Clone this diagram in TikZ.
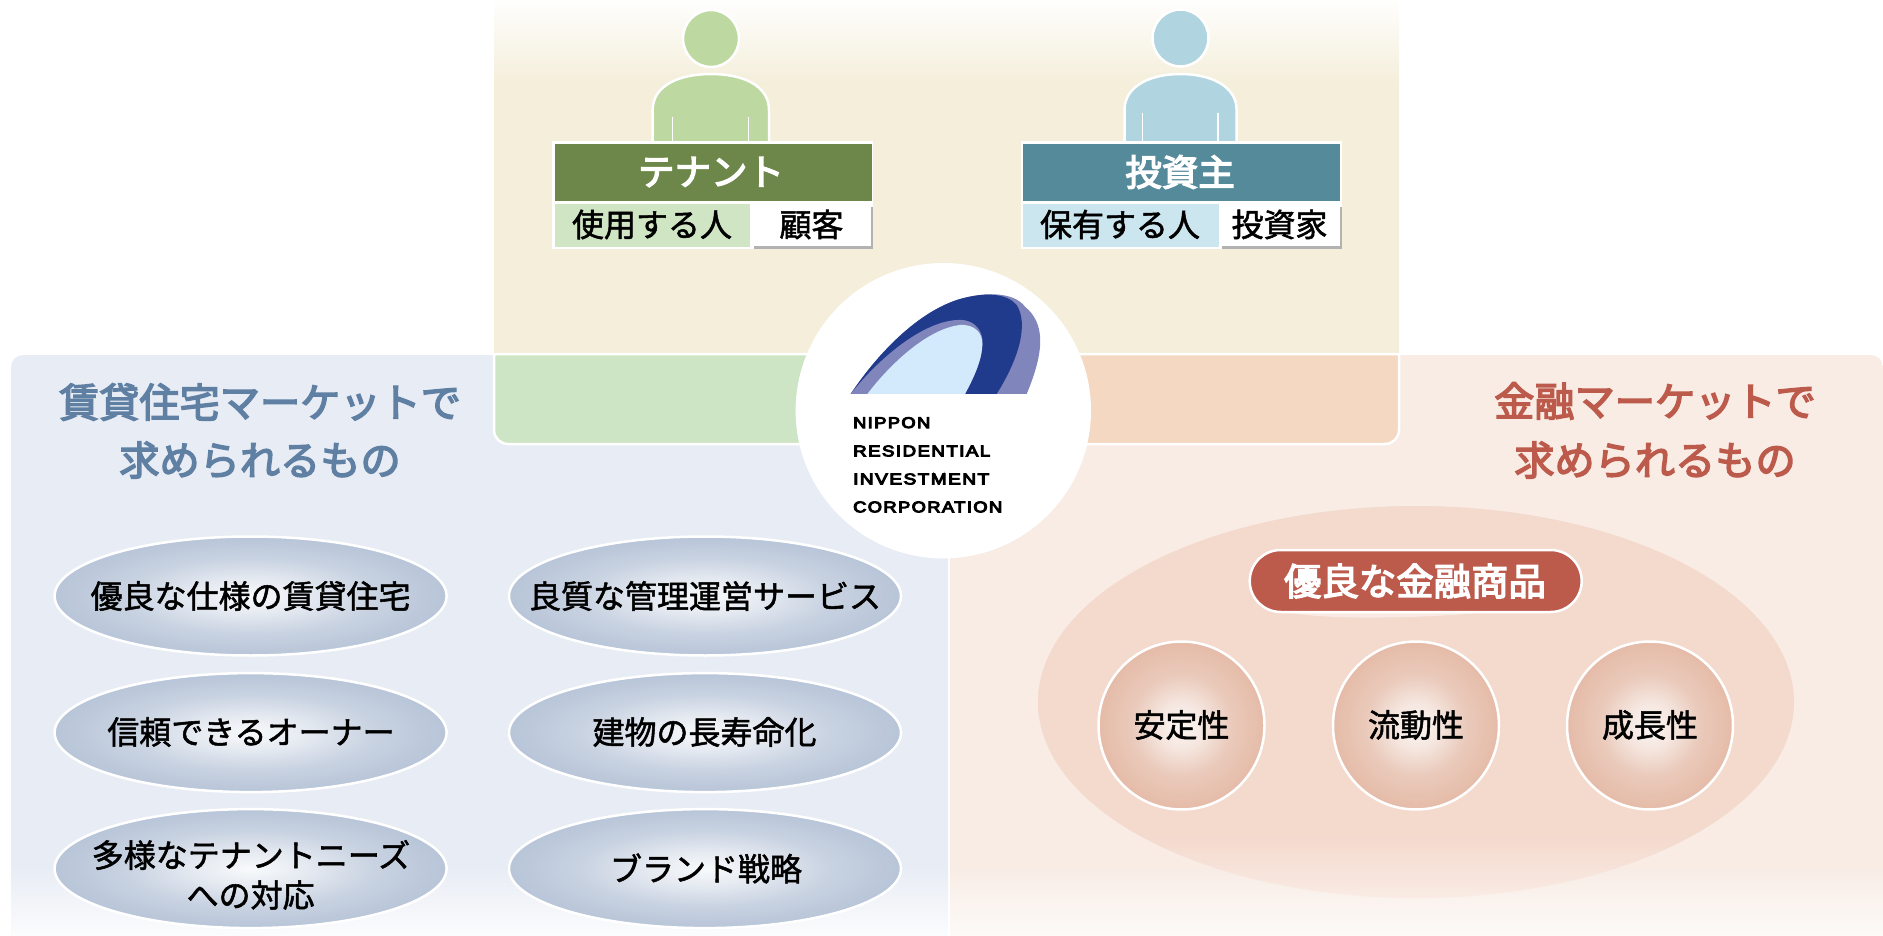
\documentclass[tikz,border=0pt]{standalone}
\usepackage{fontspec}
\setmainfont{Liberation Sans}
\newfontfamily\jpf[FakeBold=1.6]{Noto Sans CJK JP}
\newfontfamily\jph[FakeBold=3.6]{Noto Sans CJK JP}
\newfontfamily\logof[LetterSpace=8,FakeBold=6]{Liberation Sans}
\definecolor{panelB}{HTML}{E8ECF4}
\definecolor{fadeB}{HTML}{FBFCFD}
\definecolor{panelR}{HTML}{F8ECE5}
\definecolor{fadeR}{HTML}{FDFAF8}
\definecolor{beige}{HTML}{F4EEDA}
\definecolor{beigeTop}{HTML}{FEFEFD}
\definecolor{boxG}{HTML}{CDE5C4}
\definecolor{boxO}{HTML}{F4D8C1}
\definecolor{bigE}{HTML}{F4D9CD}
\definecolor{bigF}{HTML}{F9EBE4}
\definecolor{rust}{HTML}{BC5A4C}
\definecolor{steel}{HTML}{5F7FA3}
\definecolor{hdG}{HTML}{6C8749}
\definecolor{hdB}{HTML}{548A9A}
\definecolor{cellG}{HTML}{CFE5C3}
\definecolor{cellB}{HTML}{CBE6EE}
\definecolor{bodyG}{HTML}{BDD8A0}
\definecolor{bodyB}{HTML}{B1D5E0}
\definecolor{ova}{HTML}{F8FAFB}
\definecolor{ovb}{HTML}{E3E8F0}
\definecolor{ovc}{HTML}{C8D2E1}
\definecolor{ovd}{HTML}{B8C5D8}
\definecolor{cra}{HTML}{FBF6F4}
\definecolor{crb}{HTML}{F5E6DF}
\definecolor{crc}{HTML}{EACABB}
\definecolor{crd}{HTML}{E5BBA8}
\definecolor{lgD}{HTML}{203A8C}
\definecolor{lgP}{HTML}{8085BC}
\definecolor{lgL}{HTML}{D3E9FC}
\pgfdeclareverticalshading{bluepanel}{100bp}{color(0bp)=(fadeB); color(25bp)=(fadeB); color(31bp)=(panelB); color(100bp)=(panelB)}
\pgfdeclareverticalshading{redpanel}{100bp}{color(0bp)=(fadeR); color(25bp)=(fadeR); color(31bp)=(panelR); color(100bp)=(panelR)}
\pgfdeclareverticalshading{toppanel}{100bp}{color(0bp)=(beige); color(63bp)=(beige); color(75bp)=(beigeTop); color(100bp)=(beigeTop)}
\pgfdeclareverticalshading{bigoval}{100bp}{color(0bp)=(bigF); color(25bp)=(bigF); color(33bp)=(bigE); color(100bp)=(bigE)}
\pgfdeclareradialshading{ovalshade}{\pgfpoint{0bp}{0bp}}{color(0bp)=(ova); color(8bp)=(ovb); color(16bp)=(ovc); color(25bp)=(ovd); color(50bp)=(ovd)}
\pgfdeclareradialshading{circshade}{\pgfpoint{0bp}{0bp}}{color(0bp)=(cra); color(7bp)=(crb); color(15bp)=(crc); color(25bp)=(crd); color(50bp)=(crd)}
\tikzset{
  lab/.style={font=\jpf\fontsize{32pt}{40pt}\selectfont, text=black, inner sep=0pt, align=center},
  headlab/.style={font=\jph\fontsize{36.5pt}{42pt}\selectfont, text=white, inner sep=0pt},
  title/.style={font=\jph\fontsize{40.2pt}{48pt}\selectfont, inner sep=0pt},
  logolab/.style={font=\logof, text=black, inner sep=0pt, anchor=west},
  oval/.style={shading=ovalshade},
  whiteedge/.style={draw=white, line width=2.5pt},
}
\begin{document}
\begin{tikzpicture}[x=1pt,y=-1pt]
\useasboundingbox (0,0) rectangle (1883,936);
% panels
\shade[shading=toppanel] (494,0) rectangle (1399,353);
\shade[shading=bluepanel] (11,936) -- (11,367) arc[start angle=180,end angle=270,radius=12] -- (948,355) -- (948,936) -- cycle;
\shade[shading=redpanel] (950,936) -- (950,355) -- (1871,355) arc[start angle=270,end angle=360,radius=12] -- (1883,936) -- cycle;
\draw[fill=boxG,draw=white,line width=2.5pt] (494,354) -- (494,430) arc[start angle=180,end angle=90,radius=14] -- (950,444) -- (950,354) -- cycle;
\draw[fill=boxO,draw=white,line width=2.5pt] (950,354) -- (950,444) -- (1385,444) arc[start angle=90,end angle=0,radius=14] -- (1399,354) -- cycle;
% persons
\draw[whiteedge,fill=bodyG] (711,38.5) ellipse[x radius=28,y radius=28.5];
\draw[whiteedge,fill=bodyG] (652.7,143) -- (652.7,110) .. controls (652.7,85) and (680,74) .. (711,74) .. controls (742,74) and (769,85) .. (769,110) -- (769,143);
\draw[white,line width=1.5pt] (672.4,117) -- (672.4,143) (748.6,117) -- (748.6,143);
\draw[whiteedge,fill=bodyB] (1180.5,38) ellipse[x radius=28,y radius=28.5];
\draw[whiteedge,fill=bodyB] (1124.5,143) -- (1124.5,110) .. controls (1124.5,85) and (1152,74) .. (1180.5,74) .. controls (1209,74) and (1236.6,85) .. (1236.6,110) -- (1236.6,143);
\draw[white,line width=1.5pt] (1142.5,113) -- (1142.5,143) (1218,113) -- (1218,143);
% tenant table
\fill[white] (552,141) rectangle (873,249);
\fill[hdG] (554.5,144) rectangle (871.5,201.5);
\node[headlab] (tenant) at (711,172) {テナント};
\fill[cellG] (554.5,204) rectangle (750,247);
\node[lab] (use) at (652,224.5) {使用する人};
\fill[white!70!black] (754,207) rectangle (873,249);
\fill[white] (752,204) rectangle (871,246);
\node[lab] (cust) at (811.5,224.5) {顧客};
% investor table
\fill[white] (1020.5,141) rectangle (1341.5,249);
\fill[hdB] (1022.6,144) rectangle (1339.5,201.5);
\node[headlab] (investor) at (1180,172) {投資主};
\fill[cellB] (1022.6,204) rectangle (1218.6,247);
\node[lab] (hold) at (1120,224.5) {保有する人};
\fill[white!70!black] (1222,207) rectangle (1341.5,249);
\fill[white] (1220,204) rectangle (1339.5,246);
\node[lab] (inv) at (1279.5,224.5) {投資家};
% titles
\node[title,text=steel] (t1) at (260,402) {賃貸住宅マーケットで};
\node[title,text=steel] (t2) at (260,460) {求められるもの};
\node[title,text=rust] (t3) at (1655,401) {金融マーケットで};
\node[title,text=rust] (t4) at (1655,460) {求められるもの};
% left ovals
\foreach \cx/\cy in {250.6/596,705/596,250.6/732.6,705/732.6,250.6/868.6,705/868.6}{
  \shade[oval] (\cx,\cy) ellipse[x radius=196,y radius=59.5];
  \draw[whiteedge] (\cx,\cy) ellipse[x radius=196,y radius=59.5];
}
\node[lab] (o1) at (250.6,596) {優良な仕様の賃貸住宅};
\node[lab] (o2) at (705,596) {良質な管理運営サービス};
\node[lab] (o3) at (251,732) {信頼できるオーナー};
\node[lab] (o4) at (704.5,732) {建物の長寿命化};
\node[lab] (o5) at (251,855) {多様なテナントニーズ};
\node[lab] (o6) at (250.6,895) {への対応};
\node[lab] (o7) at (706,868.5) {ブランド戦略};
% right big oval
\shade[shading=bigoval] (1416,702) ellipse[x radius=378,y radius=196];
\fill[bigF] (1277,610) .. controls (1320,622) and (1440,618) .. (1510,610) -- cycle;
\draw[whiteedge,fill=rust] (1280.7,550) -- (1550.7,550) arc[start angle=270,end angle=450,radius=31] -- (1280.7,612) arc[start angle=90,end angle=270,radius=31] -- cycle;
\node[font=\jph\fontsize{37.4pt}{44pt}\selectfont,text=white,inner sep=0pt] (pill) at (1415,581) {優良な金融商品};
\foreach \cx in {1181.5,1416,1650}{
  \shade[shading=circshade] (\cx,725.5) ellipse[x radius=83,y radius=84];
  \draw[whiteedge] (\cx,725.5) ellipse[x radius=83,y radius=84];
}
\node[lab] (c1) at (1181.5,725) {安定性};
\node[lab] (c2) at (1416,725) {流動性};
\node[lab] (c3) at (1650,725) {成長性};
% logo
\fill[white] (943.3,410.7) circle[radius=147.7];
\begin{scope}[shift={(780,250)},x=0.33333pt,y=-0.33333pt]
\fill[lgP] (212,432) .. controls (300,300) and (430,170) .. (560,142) .. controls (620,128) and (700,125) .. (735,170) .. controls (795,220) and (795,300) .. (740,432) -- cycle;
\fill[lgD] (212,432) .. controls (300,300) and (430,170) .. (560,142) .. controls (620,128) and (680,130) .. (710,165) .. controls (745,220) and (720,320) .. (650,432) -- (500,432) -- cycle;
\fill[lgP] (212,432) .. controls (300,320) and (440,205) .. (545,210) .. controls (590,212) and (610,250) .. (607,280) .. controls (607,330) and (580,385) .. (555,432) -- cycle;
\fill[lgL] (262,432) .. controls (340,330) and (450,235) .. (540,225) .. controls (585,222) and (607,250) .. (607,280) .. controls (607,330) and (580,385) .. (555,432) -- cycle;
\end{scope}
\node[logolab] (l1) at (853,422.7) {\resizebox*{77pt}{11pt}{NIPPON}};
\node[logolab] (l2) at (853,451) {\resizebox*{137pt}{11pt}{RESIDENTIAL}};
\node[logolab] (l3) at (853,479) {\resizebox*{136pt}{11pt}{INVESTMENT}};
\node[logolab] (l4) at (853,507) {\resizebox*{149pt}{11pt}{CORPORATION}};
\end{tikzpicture}
\end{document}
